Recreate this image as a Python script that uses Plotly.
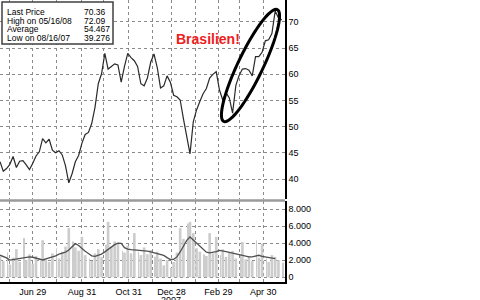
import math
import pandas as pd
import plotly.graph_objects as go
from plotly.subplots import make_subplots

# ---------------- data ----------------
holidays = ["2007-12-24", "2007-12-25", "2007-12-26", "2007-12-31",
            "2008-01-01", "2008-03-21", "2008-03-24", "2008-05-01"]

price = [43.3, 41.5, 42.0, 42.8, 44.3, 42.2, 43.4, 43.5, 42.7, 41.8,
         43.0, 44.4, 45.2, 47.7, 46.9, 47.6, 45.5, 45.0, 45.4, 44.6,
         42.5, 39.28, 41.0, 43.3, 44.5, 46.8, 48.5, 48.9, 50.6, 53.7,
         58.2, 60.1, 64.0, 61.0, 61.5, 62.0, 61.8, 58.5, 61.5, 64.0,
         63.2, 62.6, 61.5, 58.2, 57.8, 59.3, 62.3, 63.9, 61.3, 57.4,
         57.8, 59.7, 58.5, 56.0, 55.7, 55.1, 51.5, 48.5, 44.8, 50.9,
         53.2, 54.8, 56.3, 57.3, 59.3, 60.0, 60.5, 57.0, 55.1, 56.5,
         55.5, 52.6, 57.9, 59.8, 61.0, 61.1, 60.8, 59.7, 63.4, 63.4,
         64.2, 66.4, 66.6, 67.8, 72.09, 70.8, 70.36]

volume = [2400, 1900, 2900, 1500, 2300, 3300, 1800, 4600, 2000, 2700,
          1600, 2500, 1900, 4350, 2100, 1800, 2800, 3400, 2200, 3000,
          3600, 5760, 4200, 3500, 3100, 4740, 2600, 2200, 1900, 2800,
          3300, 2400, 3800, 6500, 3600, 4200, 3900, 3100, 2900, 3700,
          2800, 5180, 3000, 2600, 3500, 2700, 3200, 2400, 3000, 2200,
          1400, 2000, 1100, 1800, 2900, 5760, 4500, 6300, 6500, 5180,
          3400, 3000, 2700, 2500, 5180, 2800, 4740, 2600, 3300, 2400,
          2900, 3100, 2200, 2700, 4150, 2100, 2500, 1900, 4350, 2300,
          3960, 2200, 1800, 2600, 2400, 2000, 1700]

volume_avg = [2590, 2450, 2280, 2010, 2080, 2150, 2200, 2280, 2380, 2390,
              2350, 2230, 2100, 2030, 2160, 2270, 2370, 2520, 2720, 2850,
              2950, 3200, 3610, 3940, 3720, 3350, 3040, 2780, 2520, 2460,
              2590, 2720, 2980, 3290, 3590, 3830, 4010, 3980, 3480, 3310,
              3240, 3210, 3180, 3180, 3160, 3060, 2970, 2880, 2780, 2680,
              2570, 2310, 2090, 2110, 2390, 2970, 3740, 4330, 4720, 4370,
              3990, 3620, 3230, 2950, 2870, 2920, 3020, 3150, 3110, 3010,
              2920, 2820, 2720, 2620, 2520, 2430, 2390, 2390, 2470, 2580,
              2450, 2390, 2390, 2330, 2200, None, None]

month_ticks = ["2007-05-31", "2007-06-29", "2007-07-31", "2007-08-31",
               "2007-09-28", "2007-10-31", "2007-11-30", "2007-12-28",
               "2008-01-31", "2008-02-29", "2008-03-31", "2008-04-30"]
month_labels = ["", "Jun 29", "", "Aug 31", "", "Oct 31", "",
                "Dec 28", "", "Feb 29", "", "Apr 30"]

price_ticks = [40, 45, 50, 55, 60, 65, 70]
vol_ticks = [0, 2000, 4000, 6000, 8000]
vol_labels = ["0", "2.000", "4.000", "6.000", "8.000"]

stats_labels = ["Last Price", "High on 05/16/08", "Average", "Low on 08/16/07"]
stats_values = ["70.36", "72.09", "54.467", "39.276"]

# trading-day calendar (weekends and exchange holidays removed), every 3rd session
days = pd.bdate_range("2007-05-18", "2008-05-30")
days = days[~days.isin(pd.to_datetime(holidays))]
dates = days[::3][:len(price)]

# ---------------- layout geometry (pixels) ----------------
W, H = 480, 300
PL, PR, PT, PB = 0, 195, 0, 18
pw, ph = W - PL - PR, H - PT - PB


def px2paper(x, y):
    return x / pw, 1 - y / ph


FONT = "Liberation Sans, Arial, sans-serif"
GRID = dict(showgrid=True, gridcolor="#8a8a8a", griddash="dot", gridwidth=1)

fig = make_subplots(rows=2, cols=1, shared_xaxes=True)

fig.add_trace(go.Scatter(x=dates, y=price, mode="lines",
                         line=dict(color="#2a2a2a", width=1.2),
                         hoverinfo="skip", showlegend=False), row=1, col=1)
fig.add_trace(go.Bar(x=dates, y=volume, marker=dict(color="#cccccc", line_width=0),
                     hoverinfo="skip", showlegend=False), row=2, col=1)
fig.add_trace(go.Scatter(x=dates, y=volume_avg, mode="lines",
                         line=dict(color="#505050", width=1.3),
                         hoverinfo="skip", showlegend=False), row=2, col=1)

xcommon = dict(type="date", range=["2007-05-18", "2008-05-29"],
               rangebreaks=[dict(bounds=["sat", "mon"]), dict(values=holidays)],
               tickvals=month_ticks, ticks="", zeroline=False, **GRID)

fig.update_layout(
    width=W, height=H, autosize=False,
    margin=dict(l=PL, r=PR, t=PT, b=PB, pad=0),
    paper_bgcolor="white", plot_bgcolor="white",
    bargap=0.2,
    font=dict(family=FONT, size=9, color="black"),
    xaxis=dict(showticklabels=False, showline=False, **xcommon),
    xaxis2=dict(ticktext=month_labels, showticklabels=True,
                tickfont=dict(size=9, family=FONT, color="black"),
                showline=True, linecolor="black", linewidth=1.5, **xcommon),
    yaxis=dict(domain=[1 - 199 / ph, 1], range=[36.18, 74.2], side="right",
               tickvals=price_ticks, ticks="", showline=True, linecolor="black",
               linewidth=1.5, zeroline=False,
               tickfont=dict(size=9, family=FONT, color="black"), **GRID),
    yaxis2=dict(domain=[0, 81 / ph], range=[-550, 8940], side="right",
                tickvals=vol_ticks, ticktext=vol_labels, ticks="", showline=True,
                linecolor="black", linewidth=1.5, zeroline=False,
                tickfont=dict(size=9, family=FONT, color="black"), **GRID),
)

shapes = []
# separator between panels
shapes.append(dict(type="line", xref="paper", yref="paper", x0=0, x1=1,
                   y0=1 - 200.5 / ph, y1=1 - 200.5 / ph,
                   line=dict(color="#9a9a9a", width=2.5)))
# stats box
bx0, by0 = px2paper(2, 44)
bx1, by1 = px2paper(113, 2)
shapes.append(dict(type="rect", xref="paper", yref="paper", x0=bx0, x1=bx1,
                   y0=by0, y1=by1, fillcolor="white",
                   line=dict(color="#404040", width=1.5), layer="above"))
# ellipse around the final rally
cx, cy, a, b, th = 250.5, 65.5, 62.0, 12.5, math.radians(64.4)
ux, uy = math.cos(th), -math.sin(th)
vx, vy = math.sin(th), math.cos(th)
pts = []
for i in range(73):
    t = 2 * math.pi * i / 72
    X = cx + a * math.cos(t) * ux + b * math.sin(t) * vx
    Y = cy + a * math.cos(t) * uy + b * math.sin(t) * vy
    xp, yp = px2paper(X, Y)
    pts.append(f"{xp:.5f},{yp:.5f}")
shapes.append(dict(type="path", xref="paper", yref="paper",
                   path="M " + " L ".join(pts) + " Z",
                   line=dict(color="black", width=3)))
fig.update_layout(shapes=shapes)

ann = []
rows_y = [12.3, 20.8, 29.2, 37.6]
for lab, val, yy in zip(stats_labels, stats_values, rows_y):
    x1p, y1p = px2paper(5, yy)
    x2p, _ = px2paper(82, yy)
    ann.append(dict(text=lab, x=x1p, y=y1p, xref="paper", yref="paper",
                    xanchor="left", yanchor="middle", showarrow=False,
                    font=dict(size=8.5, family=FONT, color="black")))
    ann.append(dict(text=val, x=x2p, y=y1p, xref="paper", yref="paper",
                    xanchor="left", yanchor="middle", showarrow=False,
                    font=dict(size=8.5, family=FONT, color="black")))
bxp, byp = px2paper(208, 38.5)
ann.append(dict(text="<b>Brasilien!</b>", x=bxp, y=byp, xref="paper", yref="paper",
                xanchor="center", yanchor="middle", showarrow=False,
                font=dict(size=14, color="#ee1c1c", family=FONT)))
ann.append(dict(text="2007", x="2007-12-28", xref="x2", y=-(299.5 - ph) / ph,
                yref="paper", xanchor="center", yanchor="middle", showarrow=False,
                font=dict(size=9, family=FONT, color="black")))
fig.update_layout(annotations=ann)

fig.write_html("out.html")
